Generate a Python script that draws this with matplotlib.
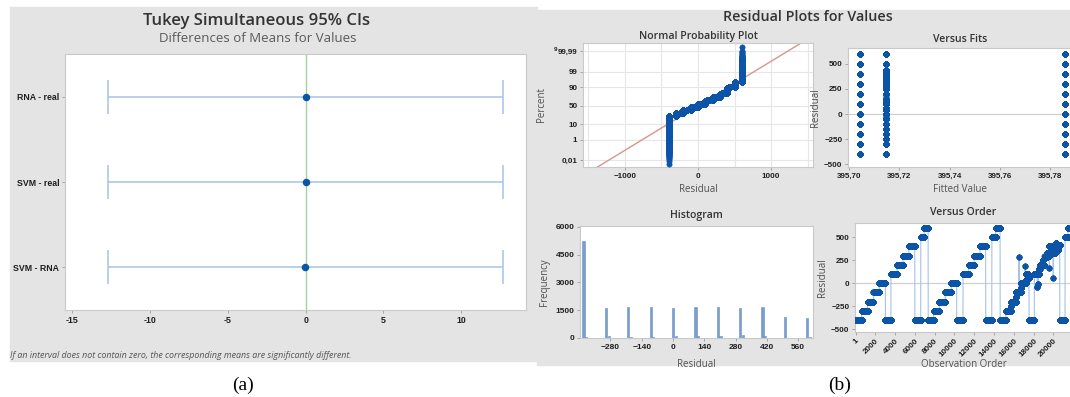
import numpy as np
import matplotlib.pyplot as plt
from matplotlib.patches import Rectangle
from statistics import NormalDist

# ---------------- data ----------------
# (a) Tukey simultaneous 95% CIs
diff_labels = ['RNA - real', 'SVM - real', 'SVM - RNA']
diff_est = [0.01, 0.00, -0.01]
diff_low = [-12.67, -12.68, -12.69]
diff_high = [12.69, 12.68, 12.67]

# (b) residuals in observation order, as runs of (residual, run length)
run_values = [
    -400, -300, -200, -100, 0, -400, 100, 200, 300, 400, -400, 500, 600, -400,
    -300, -200, -100, 0, -400, 100, 200, 300, 400, -400, 500, 600, -400,
    -300, -250, -200, -150, -100, 290, -100, -50, 0, 191, 0, 40, 100, 60,
    -400,
    100, -40, 100, -10, 120, 100, 150, 200, 250, 200, 300, 280, 330, 300, 163,
    400, 380, 350, 400, 60, 400, 330, 400, 440, 400, 360, 420,
    -400, 500, 600,
]
run_lengths = [
    620, 605, 590, 600, 600, 560, 620, 600, 590, 600, 600, 350, 400, 560,
    570, 600, 610, 540, 640, 570, 560, 590, 570, 620, 390, 450, 580,
    480, 40, 470, 40, 300, 3, 170, 30, 420, 3, 60, 20, 250, 54,
    536,
    300, 5, 80, 5, 30, 70, 40, 300, 40, 160, 250, 40, 30, 170, 3,
    150, 60, 60, 120, 3, 80, 100, 100, 30, 0, 200, 140,
    536, 300, 350,
]
# which fitted value (group) each run belongs to
run_groups = [0] * 14 + [2] * 13 + [1] * (len(run_values) - 27)
fitted_values = [395.7044, 395.7147, 395.7860]

# histogram (residual bins of width 10)
hist_levels = [-400, -300, -200, -100, 0, 100, 200, 300, 400, 500, 600]
hist_counts = [5250, 1640, 1700, 1660, 1600, 1650, 1650, 1600, 1650, 1150, 1090]
hist_side = [40, 90, 60, 70, 110, 100, 110, 150, 110, 20, 30]

npp_probs = [0.0001, 0.01, 0.10, 0.50, 0.90, 0.99, 0.9999]
npp_labels = ['0,01', '1', '10', '50', '90', '99', '99,99']

# ---------------- style ----------------
W, H = 1070, 397
BG = '#e4e4e4'
DOT = '#0b54a8'
LINE = '#a6c3e6'
BAR = '#7a9dd0'
SPINE = '#c9c9c9'
TXT = '#333333'
LAB = '#505050'

fig = plt.figure(figsize=(W / 100, H / 100), dpi=100)
fig.patch.set_facecolor('white')


def px_axes(x0, y0, x1, y1):
    ax = fig.add_axes([x0 / W, 1 - y1 / H, (x1 - x0) / W, (y1 - y0) / H])
    for s in ax.spines.values():
        s.set_color(SPINE)
        s.set_linewidth(0.8)
    ax.tick_params(colors='#9a9a9a', length=2, width=0.6, pad=2)
    return ax


def style_ticks(ax, size=6):
    for lab in ax.get_xticklabels() + ax.get_yticklabels():
        lab.set_fontfamily('Liberation Sans')
        lab.set_fontweight('bold')
        lab.set_fontsize(size)
        lab.set_color('#1e1e1e')


def ftext(x, y, s, **kw):
    fig.text(x / W, 1 - y / H, s, **kw)


def dots(ax, x, y):
    ax.plot(x, y, 'o', color=DOT, ms=3.9, mec=DOT, mew=0.3, zorder=3)


fig.add_artist(Rectangle((10 / W, 1 - 361 / H), 527 / W, 354 / H,
                         transform=fig.transFigure, color=BG, zorder=0))
fig.add_artist(Rectangle((537 / W, 1 - 365 / H), 533 / W, 355 / H,
                         transform=fig.transFigure, color=BG, zorder=0))

# ---------------- (a) ----------------
ax = px_axes(65, 54, 526, 310)
ypos = [3, 2, 1]
ax.axvline(0, color='#9fd49f', lw=1, zorder=1)
for y, e, lo, hi in zip(ypos, diff_est, diff_low, diff_high):
    ax.errorbar([e], [y], xerr=[[e - lo], [hi - e]], fmt='o', color=DOT,
                ms=4.4, ecolor=LINE, elinewidth=1.1, capsize=12.5,
                capthick=1.1, zorder=3)
ax.set_xlim(-15.45, 14.15)
ax.set_ylim(0.5, 3.5)
ax.set_yticks(ypos)
ax.set_yticklabels(diff_labels)
ax.set_xticks([-15, -10, -5, 0, 5, 10])
ax.set_xticklabels(['-15', '-10', '-5', '0', '5', '10'])
style_ticks(ax, 6.3)
ftext(257, 21, 'Tukey Simultaneous 95% CIs', ha='center', va='center',
      family='Open Sans', weight='semibold', size=12, color=TXT)
ftext(258, 38, 'Differences of Means for Values', ha='center', va='center',
      family='Open Sans', size=9.5, color='#5a5a5a')
ftext(10, 356, 'If an interval does not contain zero, the corresponding means are significantly different.',
      ha='left', va='center', family='Open Sans', style='italic', size=6.4, color='#555555')

# ---------------- (b) ----------------
resid = np.repeat(np.array(run_values, float), run_lengths)
groups = np.repeat(np.array(run_groups), run_lengths)
order = np.arange(1, len(resid) + 1)
fits = np.array(fitted_values)[groups]

ftext(808, 17, 'Residual Plots for Values', ha='center', va='center',
      family='Open Sans', weight='semibold', size=10.3, color=TXT)

# Normal probability plot
ax = px_axes(583, 43, 813, 167)
n = len(resid)
srt = np.sort(resid)
nd = NormalDist()
z = np.array([nd.inv_cdf((i - 0.3) / (n + 0.4)) for i in range(1, n + 1)])
mu, sd = resid.mean(), resid.std()
xl = np.array([-1575, 1575])
ax.plot(xl, (xl - mu) / sd, color='#d9958c', lw=1, zorder=2)
dots(ax, srt, z)
ax.set_xlim(-1575, 1575)
ax.set_ylim(-4.2, 4.3)
ax.set_xticks([-1000, 0, 1000])
ax.set_xticks([-1500, -500, 500, 1500], minor=True)
ax.set_yticks([nd.inv_cdf(p) for p in npp_probs])
ax.set_yticklabels(npp_labels)
ax.grid(True, which='both', color='#e6e6e6', lw=0.8, zorder=0)
ax.tick_params(which='minor', length=0)
style_ticks(ax, 5.8)
ax.text(-0.125, 0.935, '9', transform=ax.transAxes, fontsize=4.5,
        family='Liberation Sans', weight='bold', color='#222222')
ax.set_title('Normal Probability Plot', family='Open Sans', weight='semibold', size=7.6, color=TXT, pad=3)
ax.set_xlabel('Residual', family='Open Sans', size=7, color=LAB, labelpad=3)
ax.set_ylabel('Percent', family='Open Sans', size=7, color=LAB, labelpad=8)

# Versus fits
ax = px_axes(848, 48, 1072, 167)
ax.axhline(0, color='#d0d0d0', lw=0.9, zorder=1)
dots(ax, fits, resid)
ax.set_xlim(395.6996, 395.7887)
ax.set_ylim(-525, 655)
ax.set_xticks([395.70, 395.72, 395.74, 395.76, 395.78])
ax.set_xticklabels(['395,70', '395,72', '395,74', '395,76', '395,78'])
ax.set_yticks([-500, -250, 0, 250, 500])
style_ticks(ax, 5.8)
ax.set_title('Versus Fits', family='Open Sans', weight='semibold', size=7.6, color=TXT, pad=4)
ax.set_xlabel('Fitted Value', family='Open Sans', size=7, color=LAB, labelpad=3)
ax.set_ylabel('Residual', family='Open Sans', size=7, color=LAB, labelpad=2)

# Histogram
ax = px_axes(580, 226, 813, 338)
ax.bar(hist_levels, hist_counts, width=10, color=BAR, edgecolor='#6b8fc4', lw=0.4, zorder=2)
ax.bar(np.array(hist_levels) + 12, hist_side, width=10, color=BAR, edgecolor='#6b8fc4', lw=0.4, zorder=2)
ax.set_xlim(-416, 626)
ax.set_ylim(0, 6050)
ax.set_xticks([-280, -140, 0, 140, 280, 420, 560])
ax.set_yticks([0, 1500, 3000, 4500, 6000])
style_ticks(ax, 6)
ax.set_title('Histogram', family='Open Sans', weight='semibold', size=7.6, color=TXT, pad=6)
ax.set_xlabel('Residual', family='Open Sans', size=7, color=LAB, labelpad=6)
ax.set_ylabel('Frequency', family='Open Sans', size=7, color=LAB, labelpad=4)

# Versus order
ax = px_axes(855, 223, 1072, 332)
ax.axhline(0, color='#d0d0d0', lw=0.9, zorder=1)
ax.plot(order, resid, '-', color=LINE, lw=0.8, zorder=2)
dots(ax, order, resid)
ax.set_xlim(-50, 21870)
ax.set_ylim(-530, 655)
xt = [1, 2000, 4000, 6000, 8000, 10000, 12000, 14000, 16000, 18000, 20000]
ax.set_xticks(xt)
ax.set_xticklabels([str(v) for v in xt], rotation=45, ha='right', rotation_mode='anchor')
ax.set_yticks([-500, -250, 0, 250, 500])
style_ticks(ax, 5.8)
ax.set_title('Versus Order', family='Open Sans', weight='semibold', size=7.6, color=TXT, pad=6)
ax.set_xlabel('Observation Order', family='Open Sans', size=7, color=LAB, labelpad=0)
ax.set_ylabel('Residual', family='Open Sans', size=7, color=LAB, labelpad=2)

# panel letters
ftext(243, 385, '(a)', ha='center', va='center', family='Liberation Serif', size=14, color='black')
ftext(840, 385, '(b)', ha='center', va='center', family='Liberation Serif', size=14, color='black')

fig.savefig('out.png', dpi=100)
